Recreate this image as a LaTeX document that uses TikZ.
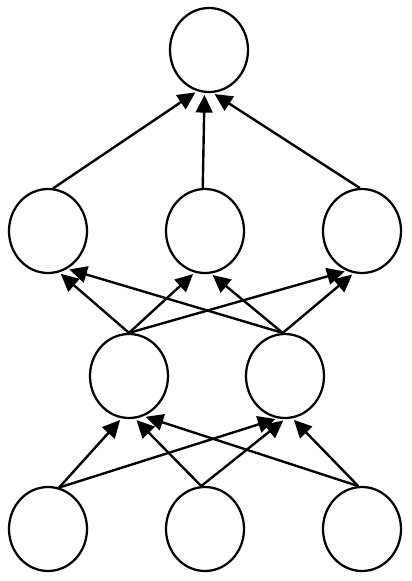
\documentclass[tikz,border=0pt]{standalone}
\usetikzlibrary{shapes.geometric,arrows.meta}

\tikzset{
  unit/.style={ellipse, draw, line width=1.6pt, minimum width=1.95cm, minimum height=2.1cm, inner sep=0pt}
}

\begin{document}
\begin{tikzpicture}[x=0.025cm, y=-0.025cm]

\useasboundingbox (0,0) rectangle (412,581);

\node [unit] (o0) at (209,50) {};
\node [unit] (m1) at (48,231) {};
\node [unit] (m2) at (205,231) {};
\node [unit] (m3) at (362,231) {};
\node [unit] (h1) at (129,376) {};
\node [unit] (h2) at (285,376) {};
\node [unit] (i1) at (48,529) {};
\node [unit] (i2) at (205,529) {};
\node [unit] (i3) at (362,529) {};

\begin{scope}[line width=1.7pt, ->, >={Triangle[length=4.4mm, width=4.2mm]}, shorten >=1.5pt]
\draw (i1.75) -- (h1.260); %i1-h1
\draw (i2.95) -- (h1.278); %i2-h1
\draw (i3.95) -- (h1.290); %i3-h1
\draw (i1.75) -- (h2.260); %i1-h2
\draw (i2.95) -- (h2.270); %i2-h2
\draw (i3.95) -- (h2.280); %i3-h2
\draw (h1.90) -- (m1.285); %h1-m1
\draw (h2.93) -- (m1.297); %h2-m1
\draw (h1.90) -- (m2.256); %h1-m2
\draw (h2.93) -- (m2.278); %h2-m2
\draw (h1.90) -- (m3.249); %h1-m3
\draw (h2.93) -- (m3.259); %h2-m3
\draw (m1.83) -- (o0.254); %m1-o0
\draw (m2.93) -- (o0.264); %m2-o0
\draw (m3.93) -- (o0.275); %m3-o0
\end{scope}

\end{tikzpicture}
\end{document}
